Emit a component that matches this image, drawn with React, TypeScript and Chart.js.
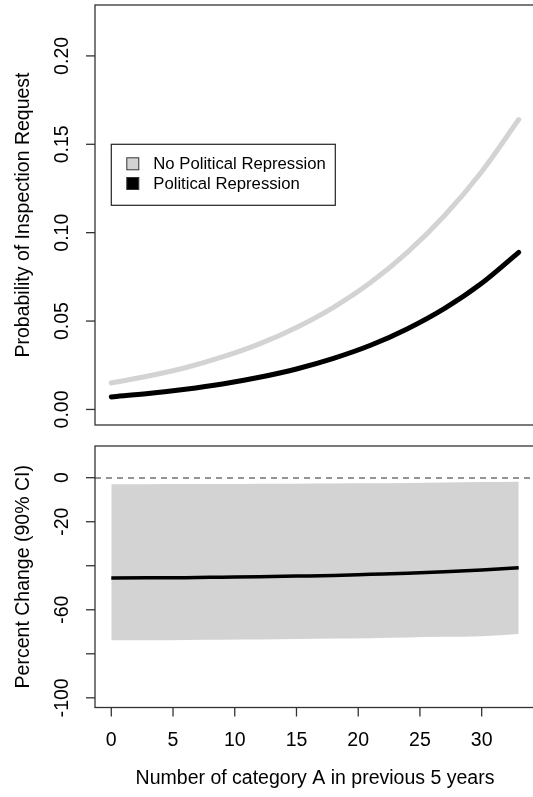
import React, { useEffect, useRef } from "react";
import { Chart, registerables } from "chart.js";

Chart.register(...registerables);

// ---------- data ----------
const xs = [0, 3, 6, 9, 12, 15, 18, 21, 24, 27, 30, 33];
const noRepression = [0.015, 0.0189, 0.0236, 0.0297, 0.0371, 0.0464, 0.0578, 0.0718, 0.089, 0.1097, 0.1345, 0.164];
const repression = [0.0071, 0.009, 0.0114, 0.0144, 0.0182, 0.0229, 0.0289, 0.0363, 0.0457, 0.0572, 0.0714, 0.0889];
const pctChange = [-45.6, -45.5, -45.4, -45.2, -45.0, -44.7, -44.4, -43.9, -43.4, -42.7, -41.9, -40.9];
const ciUpper = [-3.0, -3.0, -2.9, -2.9, -2.8, -2.7, -2.6, -2.5, -2.4, -2.2, -2.0, -1.8];
const ciLower = [-73.8, -73.8, -73.7, -73.6, -73.5, -73.3, -73.1, -72.9, -72.6, -72.3, -72.0, -71.0];

const seriesNames = ["No Political Repression", "Political Repression"];
const xTicks = [0, 5, 10, 15, 20, 25, 30];
const topTicks = [0, 0.05, 0.1, 0.15, 0.2];
const topTickLabels = ["0.00", "0.05", "0.10", "0.15", "0.20"];
const bottomTicks = [0, -20, -40, -60, -80, -100];
const bottomTickLabels = ["0", "-20", "", "-60", "", "-100"];
const topYTitle = "Probability of Inspection Request";
const bottomYTitle = "Percent Change (90% CI)";
const xTitle = "Number of category A in previous 5 years";

const FONT = '"Liberation Sans", Arial, Helvetica, sans-serif';
const GREY = "#d3d3d3";

const X_MIN = -1.32;
const X_MAX = 34.32;

function pts(vals: number[]) {
  return xs.map((x, i) => ({ x, y: vals[i] }));
}

type PanelOpts = {
  yTicks: number[];
  yLabels: string[];
  yTitle: string;
  xAxis?: boolean;
  legend?: boolean;
  zeroLine?: boolean;
};

function panelPlugin(o: PanelOpts) {
  return {
    id: "rpanel",
    afterDraw(chart: any) {
      const ctx = chart.ctx as CanvasRenderingContext2D;
      const a = chart.chartArea;
      const xs_ = chart.scales.x;
      const ys_ = chart.scales.y;
      ctx.save();
      // zero line
      if (o.zeroLine) {
        const y0 = Math.round(ys_.getPixelForValue(0));
        ctx.strokeStyle = "#707070";
        ctx.lineWidth = 1.5;
        ctx.setLineDash([6, 5]);
        ctx.beginPath();
        ctx.moveTo(a.left, y0);
        ctx.lineTo(a.right, y0);
        ctx.stroke();
        ctx.setLineDash([]);
      }
      // box
      ctx.strokeStyle = "#333";
      ctx.lineWidth = 1.3;
      ctx.strokeRect(a.left, a.top, a.right - a.left, a.bottom - a.top);
      // y ticks
      ctx.fillStyle = "#000";
      ctx.font = `19.5px ${FONT}`;
      o.yTicks.forEach((v, i) => {
        const py = ys_.getPixelForValue(v);
        ctx.beginPath();
        ctx.moveTo(a.left - 9, py);
        ctx.lineTo(a.left, py);
        ctx.stroke();
        const lab = o.yLabels[i];
        if (lab) {
          ctx.save();
          ctx.translate(63, py);
          ctx.rotate(-Math.PI / 2);
          ctx.textAlign = "center";
          ctx.textBaseline = "middle";
          ctx.fillText(lab, 0, 0);
          ctx.restore();
        }
      });
      // y title
      ctx.save();
      ctx.font = `19.5px ${FONT}`;
      ctx.translate(24, (a.top + a.bottom) / 2);
      ctx.rotate(-Math.PI / 2);
      ctx.textAlign = "center";
      ctx.textBaseline = "middle";
      ctx.fillText(o.yTitle, 0, 0);
      ctx.restore();
      // x axis
      if (o.xAxis) {
        ctx.font = `19.5px ${FONT}`;
        ctx.textAlign = "center";
        ctx.textBaseline = "middle";
        xTicks.forEach((v) => {
          const px = xs_.getPixelForValue(v);
          ctx.beginPath();
          ctx.moveTo(px, a.bottom);
          ctx.lineTo(px, a.bottom + 9);
          ctx.stroke();
          ctx.fillText(String(v), px, a.bottom + 33);
        });
        ctx.font = `19.5px ${FONT}`;
        ctx.fillText(xTitle, (a.left + a.right) / 2, a.bottom + 71);
      }
      // legend
      if (o.legend) {
        const lx = xs_.getPixelForValue(0);
        const ly = ys_.getPixelForValue(0.15);
        const w = 224;
        const h = 61;
        ctx.fillStyle = "#fff";
        ctx.fillRect(lx, ly, w, h);
        ctx.strokeStyle = "#222";
        ctx.lineWidth = 1.2;
        ctx.strokeRect(lx, ly, w, h);
        const colors = [GREY, "#000"];
        ctx.font = `16.7px ${FONT}`;
        ctx.textAlign = "left";
        ctx.textBaseline = "middle";
        seriesNames.forEach((name, i) => {
          const cy = ly + 19.5 + i * 19.7;
          ctx.fillStyle = colors[i];
          ctx.fillRect(lx + 15.5, cy - 6, 12, 12);
          ctx.strokeStyle = "#333";
          ctx.lineWidth = 1;
          ctx.strokeRect(lx + 15.5, cy - 6, 12, 12);
          ctx.fillStyle = "#000";
          ctx.fillText(name, lx + 42, cy + 0.5);
        });
      }
      ctx.restore();
    },
  };
}

function baseOptions(yMin: number, yMax: number, padding: any) {
  return {
    responsive: false,
    animation: false as const,
    devicePixelRatio: 1,
    layout: { padding },
    plugins: { legend: { display: false }, tooltip: { enabled: false }, title: { display: false } },
    elements: { point: { radius: 0 } },
    scales: {
      x: { type: "linear" as const, min: X_MIN, max: X_MAX, display: false },
      y: { type: "linear" as const, min: yMin, max: yMax, display: false },
    },
  };
}

export default function App() {
  const topRef = useRef<HTMLCanvasElement | null>(null);
  const botRef = useRef<HTMLCanvasElement | null>(null);

  useEffect(() => {
    const top = new Chart(topRef.current as HTMLCanvasElement, {
      type: "line",
      data: {
        datasets: [
          {
            label: seriesNames[0],
            data: pts(noRepression),
            borderColor: GREY,
            borderWidth: 5,
            borderCapStyle: "round",
            cubicInterpolationMode: "monotone",
            fill: false,
          },
          {
            label: seriesNames[1],
            data: pts(repression),
            borderColor: "#000",
            borderWidth: 5,
            borderCapStyle: "round",
            cubicInterpolationMode: "monotone",
            fill: false,
          },
        ],
      },
      options: baseOptions(-0.0088, 0.2288, { left: 95, top: 5, right: 10, bottom: 15 }) as any,
      plugins: [
        panelPlugin({ yTicks: topTicks, yLabels: topTickLabels, yTitle: topYTitle, legend: true }),
      ],
    });

    const bot = new Chart(botRef.current as HTMLCanvasElement, {
      type: "line",
      data: {
        datasets: [
          {
            label: "Percent Change",
            data: pts(pctChange),
            borderColor: "#000",
            borderWidth: 3.5,
            cubicInterpolationMode: "monotone",
            fill: false,
            order: -1,
          },
          {
            label: "upper",
            data: pts(ciUpper),
            borderWidth: 0,
            borderColor: "rgba(0,0,0,0)",
            cubicInterpolationMode: "monotone",
            fill: false,
            order: 1,
          },
          {
            label: "lower",
            data: pts(ciLower),
            borderWidth: 0,
            borderColor: "rgba(0,0,0,0)",
            backgroundColor: GREY,
            cubicInterpolationMode: "monotone",
            fill: 1,
            order: 1,
          },
        ],
      },
      options: baseOptions(-104.4, 14.4, { left: 95, top: 6, right: 10, bottom: 89.5 }) as any,
      plugins: [
        panelPlugin({
          yTicks: bottomTicks,
          yLabels: bottomTickLabels,
          yTitle: bottomYTitle,
          xAxis: true,
          zeroLine: true,
        }),
      ],
    });

    return () => {
      top.destroy();
      bot.destroy();
    };
  }, []);

  return (
    <div
      style={{
        position: "fixed",
        left: 0,
        top: 0,
        width: 533,
        height: 797,
        overflow: "hidden",
        background: "#fff",
      }}
    >
      <canvas
        ref={topRef}
        width={545}
        height={440}
        style={{ position: "absolute", left: 0, top: 0, width: 545, height: 440 }}
      />
      <canvas
        ref={botRef}
        width={545}
        height={357}
        style={{ position: "absolute", left: 0, top: 440, width: 545, height: 357 }}
      />
    </div>
  );
}
